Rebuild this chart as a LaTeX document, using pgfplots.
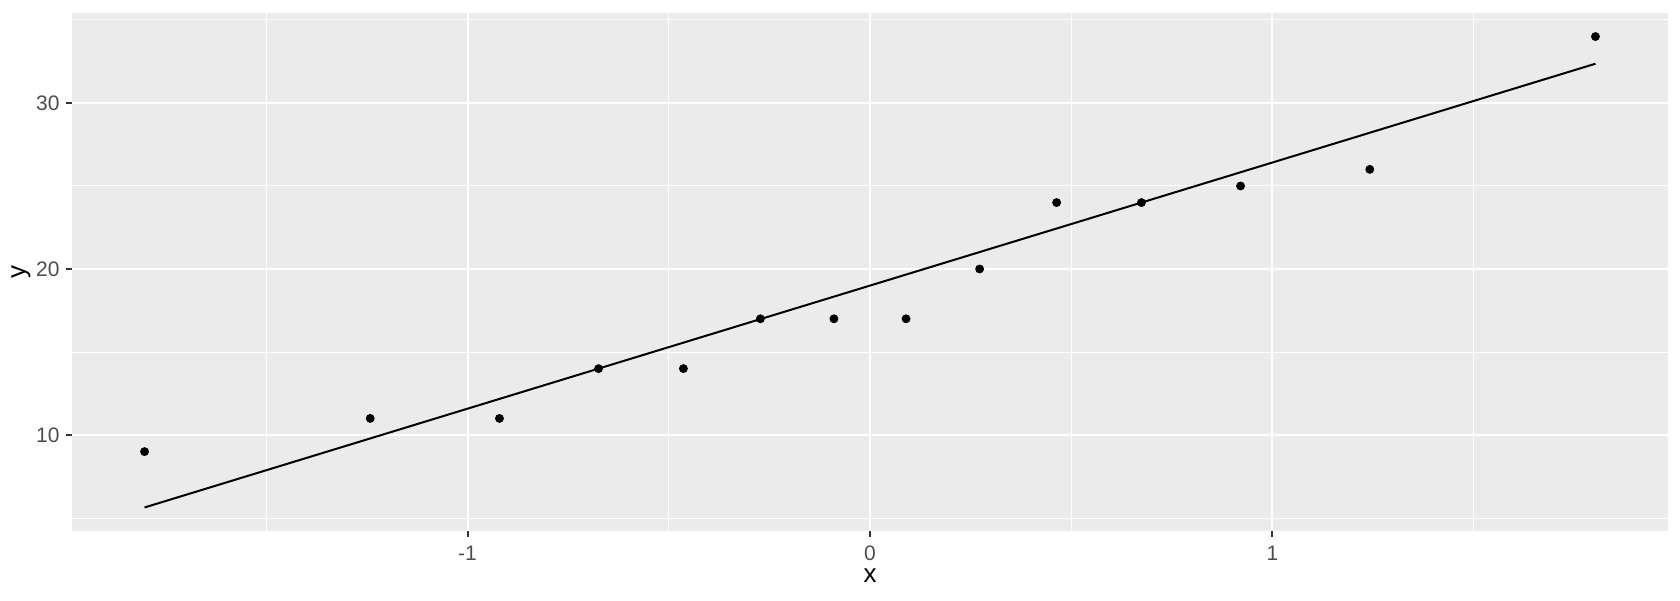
\documentclass[border=0pt]{standalone}
\usepackage{pgfplots}
\pgfplotsset{compat=1.18}
\usepackage{fontspec}
\setmainfont{Liberation Sans}
\definecolor{ggbg}{HTML}{EBEBEB}
\definecolor{ggtick}{HTML}{4D4D4D}
\definecolor{ggticks}{HTML}{333333}
\begin{document}
\begin{tikzpicture}
\begin{axis}[
  scale only axis,
  width=798pt, height=259pt,
  xmin=-1.9830, xmax=1.9830,
  ymin=4.219, ymax=35.418,
  axis background/.style={fill=ggbg},
  axis line style={draw=none},
  xtick={-1,0,1}, xticklabels={-1,0,1},
  ytick={10,20,30}, yticklabels={10,20,30},
  minor xtick={-1.5,-0.5,0.5,1.5},
  minor ytick={5,15,25,35},
  grid=both,
  major grid style={white, line width=1pt},
  minor grid style={white, line width=0.5pt},
  xtick pos=bottom, ytick pos=left,
  tick align=outside,
  major tick length=3pt, minor tick length=0pt,
  major tick style={ggticks, line width=1pt},
  minor tick style={draw=none},
  xticklabel style={font=\fontsize{10.5}{12}\selectfont, text=ggtick, anchor=center, inner sep=0pt, yshift=-8pt},
  yticklabel style={font=\fontsize{10.5}{12}\selectfont, text=ggtick, anchor=east, inner sep=0pt, xshift=-3pt},
  xlabel={x}, ylabel={y},
  every axis x label/.style={at={([yshift=-22.5pt]axis description cs:0.5,0)}, anchor=center, font=\fontsize{13}{15}\selectfont},
  every axis y label/.style={at={([xshift=-25.5pt]axis description cs:0,0.5)}, rotate=90, anchor=center, font=\fontsize{13}{15}\selectfont},
  clip=false,
]
\addplot[only marks, mark=*, mark size=2pt, black] coordinates {
(-1.8027,9) (-1.2419,11) (-0.9208,11) (-0.6745,14) (-0.4637,14) (-0.2724,17) (-0.0896,17)
(0.0896,17) (0.2724,20) (0.4637,24) (0.6745,24) (0.9208,25) (1.2419,26) (1.8027,34)
};
\addplot[black, line width=1pt] coordinates {(-1.8027,5.637) (1.8027,32.363)};
\end{axis}
\pgfresetboundingbox
\path ([shift={(-36pt,-34.5pt)}]current axis.south west) rectangle ([shift={(6pt,6.5pt)}]current axis.north east);
\end{tikzpicture}
\end{document}
